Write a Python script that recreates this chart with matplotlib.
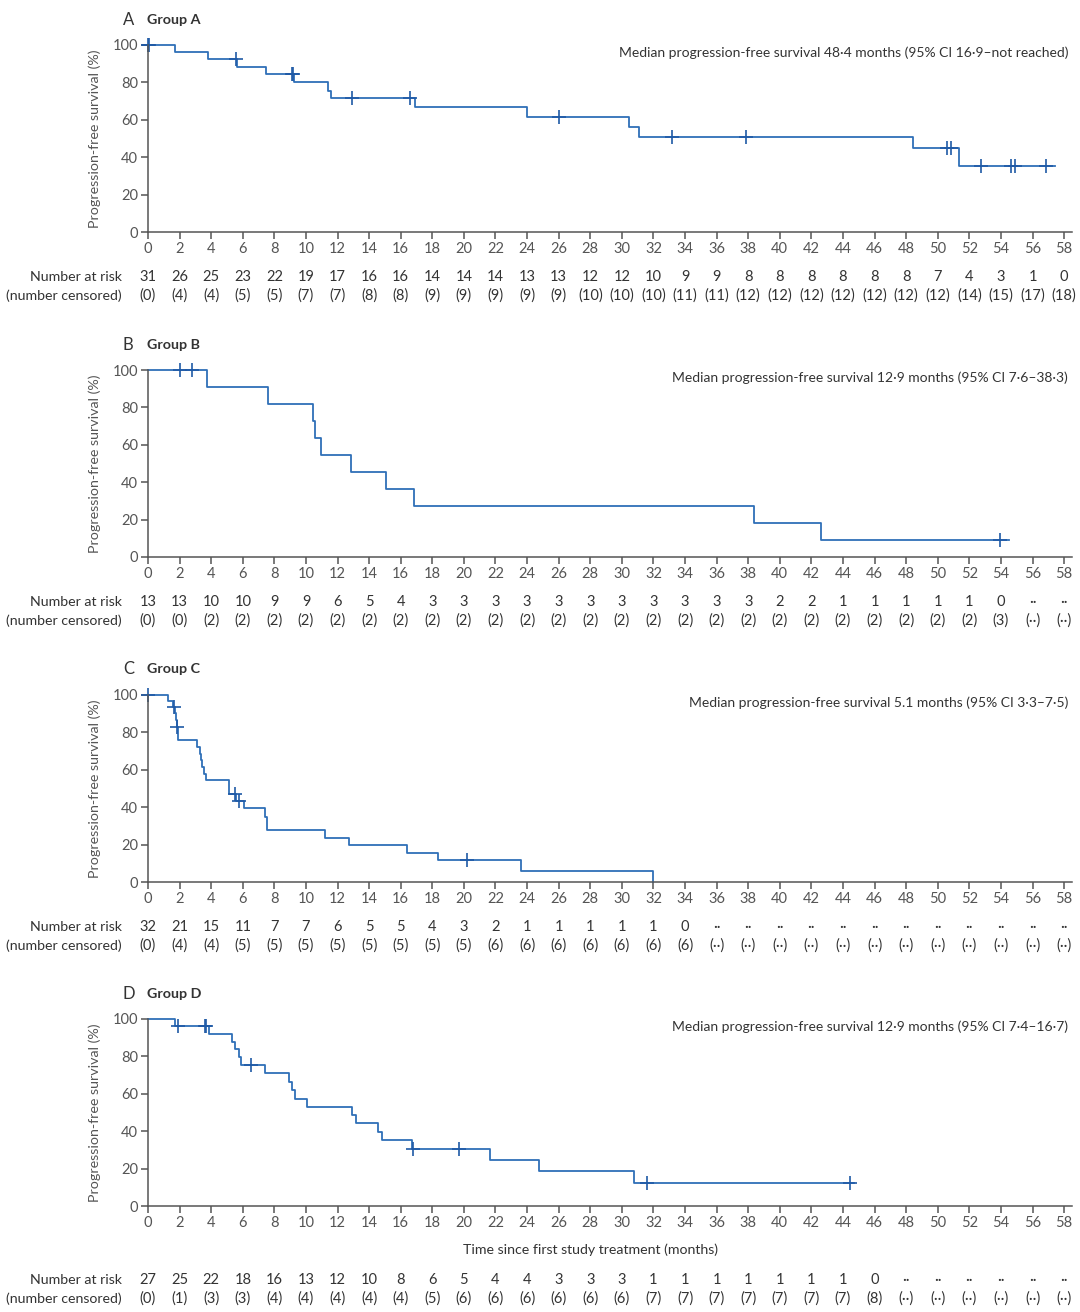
import numpy as np
import matplotlib.pyplot as plt

plt.rcParams['font.family'] = ['Lato', 'DejaVu Sans']

# tiempos para la tabla de riesgo
months = np.arange(0, 60, 2)

# Group A
a_time = [0, 1.7, 3.78, 5.66, 7.47, 9.27, 11.42, 11.57, 16.91, 24.02, 30.46, 31.1, 48.43, 51.36]
a_surv = [100, 96.3, 92.6, 88.4, 84.5, 80.4, 75.6, 71.5, 66.7, 61.7, 56.3, 51.0, 44.7, 35.5]
a_end = 57.44
a_cens = [0, 0.08, 5.57, 9.1, 9.2, 12.92, 16.59, 26.05, 33.17, 37.85, 50.58, 50.83, 52.73, 54.63, 54.86, 56.87]
a_risk = [31, 26, 25, 23, 22, 19, 17, 16, 16, 14, 14, 14, 13, 13, 12, 12, 10, 9, 9, 8, 8, 8, 8, 8, 8, 7, 4, 3, 1, 0]
a_ncens = [0, 4, 4, 5, 5, 7, 7, 8, 8, 9, 9, 9, 9, 9, 10, 10, 10, 11, 11, 12, 12, 12, 12, 12, 12, 12, 14, 15, 17, 18]
a_median = 'Median progression-free survival 48·4 months (95% CI 16·9–not reached)'

# Group B
b_time = [0, 3.73, 7.6, 10.46, 10.6, 10.94, 12.86, 15.04, 16.85, 38.37, 42.6]
b_surv = [100, 90.9, 81.8, 72.7, 63.6, 54.5, 45.5, 36.4, 27.3, 18.2, 9.1]
b_end = 54.5
b_cens = [2.04, 2.8, 53.96]
b_risk = [13, 13, 10, 10, 9, 9, 6, 5, 4, 3, 3, 3, 3, 3, 3, 3, 3, 3, 3, 3, 2, 2, 1, 1, 1, 1, 1, 0, None, None]
b_ncens = [0, 0, 2, 2, 2, 2, 2, 2, 2, 2, 2, 2, 2, 2, 2, 2, 2, 2, 2, 2, 2, 2, 2, 2, 2, 2, 2, 3, None, None]
b_median = 'Median progression-free survival 12·9 months (95% CI 7·6–38·3)'

# Group C
c_time = [0, 1.26, 1.6, 1.7, 1.78, 1.83, 1.87, 3.12, 3.27, 3.38, 3.44, 3.52, 3.66, 5.14, 5.58,
          6.06, 7.41, 7.52, 11.18, 12.75, 16.41, 18.37, 23.64, 31.98]
c_surv = [100, 96.9, 93.6, 90.2, 86.5, 82.9, 75.8, 72.2, 68.6, 65.0, 61.3, 57.9, 54.4, 46.9, 43.3,
          39.6, 34.8, 27.6, 23.5, 19.8, 15.7, 11.6, 5.9, 0]
c_end = 31.98
c_cens = [0, 1.63, 1.83, 5.51, 5.73, 20.22]
c_risk = [32, 21, 15, 11, 7, 7, 6, 5, 5, 4, 3, 2, 1, 1, 1, 1, 1, 0] + [None] * 12
c_ncens = [0, 4, 4, 5, 5, 5, 5, 5, 5, 5, 5, 6, 6, 6, 6, 6, 6, 6] + [None] * 12
c_median = 'Median progression-free survival 5.1 months (95% CI 3·3–7·5)'

# Group D
d_time = [0, 1.69, 3.87, 5.32, 5.52, 5.73, 5.9, 7.41, 8.95, 9.1, 9.33, 10.06, 12.94, 13.17,
          14.56, 14.83, 16.69, 21.66, 24.74, 30.78]
d_surv = [100, 96.3, 92.0, 87.9, 83.8, 79.6, 75.3, 70.9, 66.3, 61.8, 57.4, 52.9, 48.7, 44.4,
          39.8, 35.5, 30.7, 24.5, 18.5, 12.1]
d_end = 44.7
d_cens = [1.92, 3.58, 3.66, 6.54, 16.75, 19.68, 31.57, 44.42]
d_risk = [27, 25, 22, 18, 16, 13, 12, 10, 8, 6, 5, 4, 4, 3, 3, 3, 1, 1, 1, 1, 1, 1, 1, 0] + [None] * 6
d_ncens = [0, 1, 3, 3, 4, 4, 4, 4, 4, 5, 6, 6, 6, 6, 6, 6, 7, 7, 7, 7, 7, 7, 7, 8] + [None] * 6
d_median = 'Median progression-free survival 12·9 months (95% CI 7·4–16·7)'

azul = '#2f6fb7'
gris = '#555555'
texto = '#333333'

W, H = 1080, 1312
fig = plt.figure(figsize=(W / 100, H / 100), dpi=100)

# posicion de cada panel en pixeles: y del 100, y del 0, y del titulo
paneles = [
    ('A', 'Group A', a_time, a_surv, a_end, a_cens, a_risk, a_ncens, a_median, 45, 232, 20),
    ('B', 'Group B', b_time, b_surv, b_end, b_cens, b_risk, b_ncens, b_median, 370, 557, 345),
    ('C', 'Group C', c_time, c_surv, c_end, c_cens, c_risk, c_ncens, c_median, 695, 882, 669),
    ('D', 'Group D', d_time, d_surv, d_end, d_cens, d_risk, d_ncens, d_median, 1019, 1206, 994),
]

x0, x1 = 148, 1072
for letra, nombre, t, s, fin, cens, risk, ncens, med, ytop, ybot, ylab in paneles:
    ax = fig.add_axes([x0 / W, 1 - ybot / H, (x1 - x0) / W, (ybot - ytop) / H])
    alto = ybot - ytop

    # curva escalonada
    tt = list(t) + [fin]
    ss = list(s) + [s[-1]]
    ax.step(tt, ss, where='post', color=azul, lw=1.3, clip_on=False)
    idx = np.searchsorted(t, cens, side='right') - 1
    ax.plot(cens, np.array(s)[idx], '+', color='#1f5aa6', ms=10, mew=1.2, clip_on=False)

    ax.set_xlim(0, 58.5)
    ax.set_ylim(0, 100)
    ax.set_xticks(months)
    ax.set_yticks(range(0, 101, 20))
    for lado in ['top', 'right']:
        ax.spines[lado].set_visible(False)
    for lado in ['left', 'bottom']:
        ax.spines[lado].set_color(gris)
        ax.spines[lado].set_linewidth(1.1)
    ax.tick_params(direction='out', length=5, width=1.1, color=gris,
                   labelcolor=gris, labelsize=10.5, pad=2)
    ax.set_ylabel('Progression-free survival (%)', color=gris, fontsize=10.3)
    ax.yaxis.set_label_coords(-47 / (x1 - x0), 0.5)

    ax.text(58.25, 1 - 8 / alto, med, transform=ax.get_xaxis_transform(),
            ha='right', va='center', fontsize=10, color=texto)

    # letra y titulo del panel
    fig.text(123 / W, 1 - ylab / H, letra, fontsize=12, color=texto, va='center')
    fig.text(147 / W, 1 - ylab / H, nombre, fontsize=10.3, color=texto,
             va='center', fontweight='bold')

    # tabla de riesgo
    if letra == 'D':
        off1, off2 = 74, 93
        ax.text(28.0, -44 / alto, 'Time since first study treatment (months)',
                transform=ax.get_xaxis_transform(), ha='center', va='center',
                fontsize=10.2, color=texto)
    else:
        off1, off2 = 45, 64
    trans = ax.get_xaxis_transform()
    ax.text(-1.65, -off1 / alto, 'Number at risk', transform=trans,
            ha='right', va='center', fontsize=10.2, color=texto)
    ax.text(-1.65, -off2 / alto, '(number censored)', transform=trans,
            ha='right', va='center', fontsize=10.2, color=texto)
    for m, r, c in zip(months, risk, ncens):
        rs = '··' if r is None else str(r)
        cs = '(··)' if c is None else '(%d)' % c
        ax.text(m, -off1 / alto, rs, transform=trans, ha='center', va='center',
                fontsize=10.5, color=texto)
        ax.text(m, -off2 / alto, cs, transform=trans, ha='center', va='center',
                fontsize=10.5, color=texto)

fig.savefig('out.png', dpi=100)
